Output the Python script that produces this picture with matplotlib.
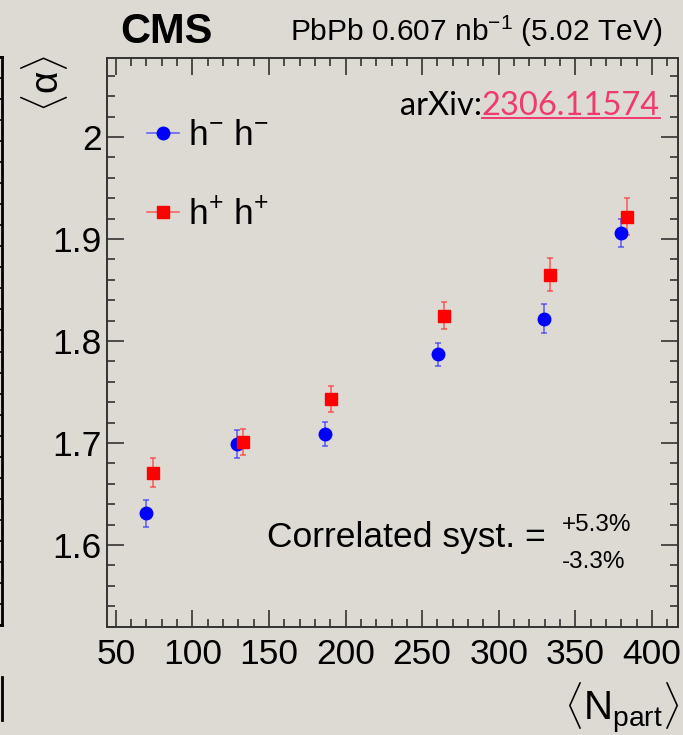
import matplotlib
matplotlib.use('Agg')
import matplotlib.pyplot as plt
from matplotlib.lines import Line2D
from matplotlib.ticker import MultipleLocator

plt.rcParams['font.family'] = ['Liberation Sans', 'DejaVu Sans']
plt.rcParams['mathtext.fontset'] = 'custom'
plt.rcParams['mathtext.rm'] = 'Liberation Sans'
plt.rcParams['mathtext.it'] = 'Liberation Sans:italic'
plt.rcParams['mathtext.bf'] = 'Liberation Sans:bold'

bg = '#dddad4'

# <alpha> vs <Npart>, same-sign pairs
npart_neg = [69.6, 129.0, 186.4, 260.2, 329.4, 380.1]
alpha_neg = [1.631, 1.699, 1.709, 1.787, 1.822, 1.906]
err_neg = [0.013, 0.014, 0.012, 0.011, 0.014, 0.014]

npart_pos = [74.2, 133.0, 190.3, 264.0, 333.3, 384.0]
alpha_pos = [1.671, 1.701, 1.743, 1.825, 1.865, 1.922]
err_pos = [0.014, 0.013, 0.013, 0.013, 0.016, 0.018]

xticks = [50, 100, 150, 200, 250, 300, 350, 400]
yticks = [1.6, 1.7, 1.8, 1.9, 2.0]
ytick_labels = ['1.6', '1.7', '1.8', '1.9', '2']

fig = plt.figure(figsize=(6.83, 7.35), dpi=100, facecolor=bg)
ax = fig.add_axes([0.1567, 0.1469, 0.8360, 0.7742])
ax.set_facecolor(bg)

ax.errorbar(npart_neg, alpha_neg, yerr=err_neg, fmt='o', color='#0000ff', ms=9,
            ecolor=(0.2, 0.2, 1.0, 0.7), elinewidth=1.2, capsize=2.5, capthick=1.2)
ax.errorbar(npart_pos, alpha_pos, yerr=err_pos, fmt='s', color='#ff0000', ms=8.5,
            ecolor=(1.0, 0.2, 0.2, 0.7), elinewidth=1.2, capsize=2.5, capthick=1.2)

ax.set_xlim(44.3, 417)
ax.set_ylim(1.5196, 2.0775)
ax.set_xticks(xticks)
ax.set_yticks(yticks)
ax.set_yticklabels(ytick_labels)
ax.xaxis.set_minor_locator(MultipleLocator(10))
ax.yaxis.set_minor_locator(MultipleLocator(0.02))
ax.tick_params(which='both', direction='in', top=True, right=True, colors='#333333',
               labelcolor='black', labelsize=25.5)
ax.tick_params(which='major', length=12.5, width=1.2)
ax.tick_params(which='minor', length=6, width=1.2)
ax.tick_params(axis='x', pad=8)
ax.tick_params(axis='y', pad=4)
for s in ax.spines.values():
    s.set_color('#333333')
    s.set_linewidth(1.4)

# legend
handles = [Line2D([], [], marker='o', color=(0.2, 0.2, 1.0, 0.7), mfc='#0000ff', mec='#0000ff', ms=9, lw=1.2),
           Line2D([], [], marker='s', color=(1.0, 0.2, 0.2, 0.7), mfc='#ff0000', mec='#ff0000', ms=8.5, lw=1.2)]
ax.legend(handles, [r'h$^{-}$ h$^{-}$', r'h$^{+}$ h$^{+}$'], loc='upper left',
          bbox_to_anchor=(0.015, 0.948), frameon=False, fontsize=25.5, handlelength=0.9,
          handletextpad=0.25, labelspacing=1.3)

# annotations
ax.text(0.28, 0.158, 'Correlated syst. =', transform=ax.transAxes, fontsize=25.5,
        ha='left', va='center')
ax.text(0.797, 0.180, '+5.3%', transform=ax.transAxes, fontsize=17.5, ha='left', va='center')
ax.text(0.797, 0.115, '-3.3%', transform=ax.transAxes, fontsize=17.5, ha='left', va='center')

fig.text(120 / 683, 1 - 32 / 735, 'CMS', fontsize=30, fontweight='bold', ha='left', va='center')
fig.text(662 / 683, 1 - 31 / 735, r'PbPb 0.607 nb$^{-1}$ (5.02 TeV)', fontsize=21.5,
         ha='right', va='center')

fig.text(45 / 683, 1 - 55 / 735, r'$\langle\mathrm{\alpha}\rangle$', fontsize=28, rotation=90,
         ha='center', va='top')
fig.text(679 / 683, 0 / 735, r'$\langle\mathrm{N}_{\mathrm{part}}\rangle$', fontsize=29,
         ha='right', va='bottom')

# arXiv reference, number in pink and underlined
num = fig.text(660 / 683, 1 - 106 / 735, '2306.11574', fontsize=23.5, color='#f03a6a',
               ha='right', va='center', family='Lato')
fig.canvas.draw()
r = fig.canvas.get_renderer()
bb = num.get_window_extent(r).transformed(fig.transFigure.inverted())
fig.text(bb.x0, 1 - 106 / 735, 'arXiv:', fontsize=23.5, color='black', ha='right',
         va='center', family='Lato')
fig.add_artist(Line2D([bb.x0, bb.x1], [bb.y0 + 0.004, bb.y0 + 0.004], color='#f03a6a', lw=1.4))

# edge of the neighbouring panel
side = fig.add_axes([-0.1, 0.1497, 0.103, 0.7727])
side.set_facecolor('none')
side.set_xlim(0, 1)
side.set_ylim(0, 27)
side.set_xticks([])
side.yaxis.set_major_locator(MultipleLocator(1))
side.tick_params(axis='y', direction='in', right=True, left=False, labelleft=False,
                 length=5, width=1.2)
for s in side.spines.values():
    s.set_linewidth(2)
side2 = fig.add_axes([-0.1, 1 - 720 / 735, 0.103, 43 / 735])
side2.set_facecolor('none')
side2.set_xticks([])
side2.set_yticks([])
for k in ['top', 'bottom', 'left']:
    side2.spines[k].set_visible(False)
side2.spines['right'].set_linewidth(2)

fig.savefig('out.png', dpi=100, facecolor=bg)
